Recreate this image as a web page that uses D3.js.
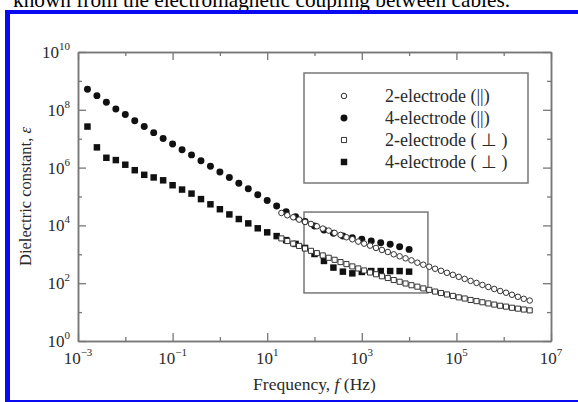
<!DOCTYPE html>
<html>
<head>
<meta charset="utf-8">
<script src="https://cdn.jsdelivr.net/npm/d3@7"></script>
<style>
  body { margin: 0; background: #fff; overflow: hidden; }
  svg { display: block; font-family: "Liberation Serif", "Times New Roman", serif; }
</style>
</head>
<body>
<svg id="chart" width="578" height="402"></svg>
<script>
// values: log10(f / Hz) and log10(epsilon)
const fourElecLogF = [-2.8, -2.6, -2.4, -2.2, -2.0, -1.8, -1.6, -1.4, -1.2, -1.0, -0.8, -0.6,
  -0.4, -0.2, 0.0, 0.2, 0.4, 0.6, 0.8, 1.0, 1.2, 1.4, 1.6, 1.8, 2.0, 2.2, 2.4, 2.6, 2.8,
  3.0, 3.2, 3.4, 3.6, 3.8, 4.0]
const fourParLogEps = [8.71, 8.49, 8.26, 8.03, 7.84, 7.62, 7.42, 7.21, 7.01, 6.82, 6.62, 6.44,
  6.24, 6.05, 5.85, 5.66, 5.46, 5.27, 5.06, 4.86, 4.67, 4.47, 4.30, 4.14, 3.98, 3.84, 3.73,
  3.63, 3.57, 3.52, 3.46, 3.40, 3.35, 3.26, 3.17]
const fourPerpLogEps = [7.42, 6.70, 6.34, 6.26, 6.10, 5.91, 5.75, 5.66, 5.56, 5.39, 5.24, 5.10,
  4.91, 4.73, 4.56, 4.38, 4.22, 4.07, 3.90, 3.76, 3.63, 3.49, 3.36, 3.22, 3.01, 2.77, 2.54,
  2.40, 2.34, 2.39, 2.42, 2.42, 2.42, 2.42, 2.40]

const twoElecLogF = [1.3, 1.425, 1.55, 1.675, 1.8, 1.925, 2.05, 2.175, 2.3, 2.425, 2.55, 2.675,
  2.8, 2.925, 3.05, 3.175, 3.3, 3.425, 3.55, 3.675, 3.8, 3.925, 4.05, 4.175, 4.3, 4.425, 4.55,
  4.675, 4.8, 4.925, 5.05, 5.175, 5.3, 5.425, 5.55, 5.675, 5.8, 5.925, 6.05, 6.175, 6.3, 6.425, 6.55]
const twoParLogEps = [4.43, 4.35, 4.28, 4.20, 4.12, 4.05, 3.97, 3.89, 3.82, 3.74, 3.67, 3.59,
  3.52, 3.44, 3.37, 3.30, 3.22, 3.15, 3.08, 3.00, 2.93, 2.86, 2.79, 2.71, 2.64, 2.57, 2.50,
  2.43, 2.36, 2.29, 2.22, 2.15, 2.08, 2.01, 1.94, 1.87, 1.80, 1.73, 1.67, 1.60, 1.53, 1.46, 1.40]
const twoPerpLogEps = [3.55, 3.46, 3.37, 3.29, 3.20, 3.12, 3.04, 2.96, 2.88, 2.81, 2.73, 2.66,
  2.58, 2.51, 2.44, 2.37, 2.31, 2.24, 2.18, 2.11, 2.05, 1.99, 1.93, 1.88, 1.82, 1.77, 1.71,
  1.66, 1.61, 1.56, 1.51, 1.47, 1.42, 1.38, 1.34, 1.30, 1.26, 1.22, 1.19, 1.15, 1.12, 1.09, 1.06]

const legendLabels = ['2-electrode (||)', '4-electrode (||)', '2-electrode ( \u22a5 )', '4-electrode ( \u22a5 )']
const xExponents = [-3, -2, -1, 0, 1, 2, 3, 4, 5, 6, 7]
const yExponents = [0, 1, 2, 3, 4, 5, 6, 7, 8, 9, 10]
// zoom box of the original figure, in data units
const insetF = [60, 25000]
const insetEps = [46, 29000]

const plotLeft = 78, plotRight = 551, plotTop = 52, plotBottom = 341
const axisColor = '#777'
const textColor = '#2a2a2a'

const svg = d3.select('#chart')

// page decoration: clipped caption line and blue frame
svg.append('text')
  .attr('x', 13)
  .attr('y', 7)
  .attr('font-size', 22)
  .attr('textLength', 497)
  .attr('lengthAdjust', 'spacingAndGlyphs')
  .attr('fill', '#000')
  .text('known from the electromagnetic coupling between cables.')
svg.append('rect').attr('x', 5).attr('y', 10).attr('width', 573).attr('height', 4).attr('fill', '#0a0af0')
svg.append('rect').attr('x', 5).attr('y', 10).attr('width', 5).attr('height', 392).attr('fill', '#0a0af0')
svg.append('rect').attr('x', 5).attr('y', 400).attr('width', 573).attr('height', 2).attr('fill', '#0a0af0')

const xScale = d3.scaleLog().domain([1e-3, 1e7]).range([plotLeft, plotRight])
const yScale = d3.scaleLog().domain([1, 1e10]).range([plotBottom, plotTop])

const toVal = e => Math.pow(10, e)
const xMajor = xExponents.filter(e => Math.abs(e) % 2 === 1).map(toVal)
const xMinor = xExponents.filter(e => Math.abs(e) % 2 === 0).map(toVal)
const yMajor = yExponents.filter(e => e % 2 === 0).map(toVal)
const yMinor = yExponents.filter(e => e % 2 === 1).map(toVal)

function drawAxis(axisFn, scale, values, size, transform) {
  const g = svg.append('g')
    .attr('transform', transform)
    .call(axisFn(scale).tickValues(values).tickSize(size).tickSizeOuter(0).tickFormat(() => ''))
  g.select('.domain').attr('stroke', axisColor).attr('stroke-width', 1.5)
  g.selectAll('.tick line').attr('stroke', axisColor).attr('stroke-width', 1.3)
  return g
}

// inward ticks on all four sides
drawAxis(d3.axisBottom, xScale, xMajor, -8, 'translate(0,' + plotBottom + ')')
drawAxis(d3.axisBottom, xScale, xMinor, -4, 'translate(0,' + plotBottom + ')')
drawAxis(d3.axisTop, xScale, xMajor, -8, 'translate(0,' + plotTop + ')')
drawAxis(d3.axisTop, xScale, xMinor, -4, 'translate(0,' + plotTop + ')')
drawAxis(d3.axisLeft, yScale, yMajor, -8, 'translate(' + plotLeft + ',0)')
drawAxis(d3.axisLeft, yScale, yMinor, -4, 'translate(' + plotLeft + ',0)')
drawAxis(d3.axisRight, yScale, yMajor, -8, 'translate(' + plotRight + ',0)')
drawAxis(d3.axisRight, yScale, yMinor, -4, 'translate(' + plotRight + ',0)')

// power-of-ten tick labels
function powerLabel(sel, exp) {
  sel.append('tspan').attr('font-size', 17).text('10')
  sel.append('tspan').attr('font-size', 11).attr('dy', -8).text(exp < 0 ? '\u2212' + (-exp) : exp)
}

xExponents.filter(e => Math.abs(e) % 2 === 1).forEach(e => {
  svg.append('text')
    .attr('x', xScale(toVal(e)))
    .attr('y', 364)
    .attr('text-anchor', 'middle')
    .attr('fill', textColor)
    .call(powerLabel, e)
})

yExponents.filter(e => e % 2 === 0).forEach(e => {
  svg.append('text')
    .attr('x', 70)
    .attr('y', yScale(toVal(e)) + 6)
    .attr('text-anchor', 'end')
    .attr('fill', textColor)
    .call(powerLabel, e)
})

// axis titles
const xTitle = svg.append('text')
  .attr('x', (plotLeft + plotRight) / 2)
  .attr('y', 390)
  .attr('text-anchor', 'middle')
  .attr('font-size', 17.5)
  .attr('fill', textColor)
xTitle.append('tspan').text('Frequency, ')
xTitle.append('tspan').attr('font-style', 'italic').text('f')
xTitle.append('tspan').text(' (Hz)')

const yTitle = svg.append('text')
  .attr('transform', 'translate(31,' + (plotTop + plotBottom) / 2 + ') rotate(-90)')
  .attr('text-anchor', 'middle')
  .attr('font-size', 16.5)
  .attr('fill', textColor)
yTitle.append('tspan').text('Dielectric constant, ')
yTitle.append('tspan').attr('font-style', 'italic').text('\u03b5')

// zoom box
svg.append('rect')
  .attr('x', xScale(insetF[0]))
  .attr('y', yScale(insetEps[1]))
  .attr('width', xScale(insetF[1]) - xScale(insetF[0]))
  .attr('height', yScale(insetEps[0]) - yScale(insetEps[1]))
  .attr('fill', 'none')
  .attr('stroke', axisColor)
  .attr('stroke-width', 1.5)

// series: filled ones first, open markers on top
const series = [
  { logF: fourElecLogF, logEps: fourParLogEps, type: d3.symbolCircle, size: 38, open: false },
  { logF: fourElecLogF, logEps: fourPerpLogEps, type: d3.symbolSquare, size: 42, open: false },
  { logF: twoElecLogF, logEps: twoParLogEps, type: d3.symbolCircle, size: 24, open: true },
  { logF: twoElecLogF, logEps: twoPerpLogEps, type: d3.symbolSquare, size: 26, open: true }
]

series.forEach(s => {
  const pts = s.logF.map((lf, i) => [toVal(lf), toVal(s.logEps[i])])
  svg.append('g')
    .selectAll('path')
    .data(pts)
    .enter()
    .append('path')
    .attr('d', d3.symbol().type(s.type).size(s.size))
    .attr('transform', d => 'translate(' + xScale(d[0]) + ',' + yScale(d[1]) + ')')
    .attr('fill', s.open ? '#fff' : '#111')
    .attr('stroke', s.open ? '#333' : 'none')
    .attr('stroke-width', 1)
})

// legend
svg.append('rect')
  .attr('x', 304)
  .attr('y', 73)
  .attr('width', 224)
  .attr('height', 110)
  .attr('fill', '#fff')
  .attr('stroke', axisColor)
  .attr('stroke-width', 1.5)

const legendSeries = [series[2], series[0], series[3], series[1]]
const legend = svg.selectAll('.legend')
  .data(legendLabels)
  .enter()
  .append('g')
  .attr('class', 'legend')
  .attr('transform', (d, i) => 'translate(0,' + (96 + i * 22) + ')')

legend.append('path')
  .attr('transform', 'translate(344,0)')
  .attr('d', (d, i) => d3.symbol().type(legendSeries[i].type).size(legendSeries[i].size)())
  .attr('fill', (d, i) => legendSeries[i].open ? '#fff' : '#111')
  .attr('stroke', (d, i) => legendSeries[i].open ? '#333' : 'none')

legend.append('text')
  .attr('x', 385)
  .attr('y', 6)
  .attr('font-size', 18)
  .attr('fill', textColor)
  .text(d => d)
</script>
</body>
</html>
